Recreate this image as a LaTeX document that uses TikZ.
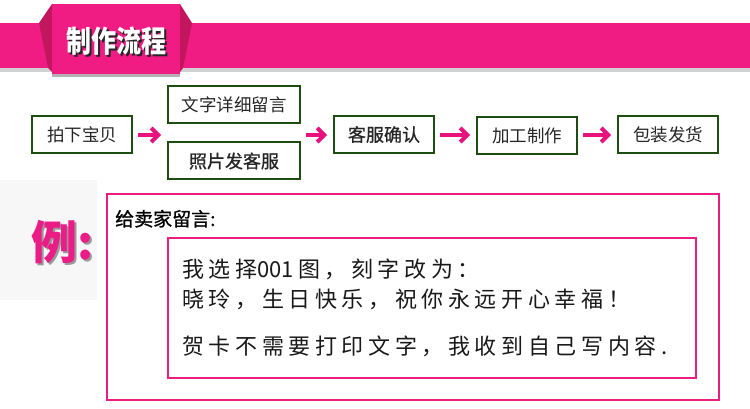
\documentclass[tikz,border=0pt]{standalone}
\usepackage{fontspec}
\usetikzlibrary{arrows.meta}
\newfontfamily\cjk{Noto Sans CJK SC}
\newfontfamily\cjkm[FakeBold=1]{Noto Sans CJK SC}
\newfontfamily\cjkw[LetterSpace=21]{Noto Sans CJK SC}
\definecolor{bandpink}{HTML}{F01B83}
\definecolor{folddark}{HTML}{C2175F}
\definecolor{boxgreen}{HTML}{1E4D12}
\definecolor{arrowpink}{HTML}{E8127F}
\definecolor{framepink}{HTML}{EC1C87}
\newcommand{\shadowtext}[3]{\rlap{\raisebox{-2pt}{\kern2pt\textcolor{#1}{#3}}}\textcolor{#2}{#3}}
\tikzset{
  flowbox/.style={draw=boxgreen, line width=2pt, minimum height=37pt, inner sep=0pt,
    font=\cjk\fontsize{17.5}{20}\selectfont, text=black!85},
  flowarrow/.style={draw=arrowpink, line width=4pt, shorten <=5pt, shorten >=6pt,
    -{Straight Barb[length=7pt,width=14pt]}},
  frame/.style={draw=framepink, inner sep=0pt},
  msg/.style={anchor=base west, inner sep=0pt, font=\cjkw\fontsize{22}{24}\selectfont, text=black!90},
}
\begin{document}
\begin{tikzpicture}[x=1pt,y=-1pt]
\useasboundingbox (0,0) rectangle (750,409);
\fill[white] (0,0) rectangle (750,409);
% banner
\fill[black!18] (0,68) rectangle (750,72);
\fill[bandpink] (0,23) rectangle (750,68);
\fill[black!30] (52,72) rectangle (180,77);
\fill[folddark] (39,23) -- (52,4) -- (52,72) -- (48,68) -- cycle;
\fill[folddark] (180,4) -- (192,23) -- (183,68) -- (180,72) -- cycle;
\fill[bandpink] (52,4) rectangle (180,74);
\node[font=\cjk\bfseries\fontsize{25}{28}\selectfont, yscale=1.2] (title) at (116,42)
  {\shadowtext{black!85}{white}{制作流程}};
% flow
\node[flowbox, minimum width=100pt] (n1) at (82,134.5) {拍下宝贝};
\node[flowbox, minimum width=132pt] (n2) at (234,104.5) {文字详细留言};
\node[flowbox, minimum width=132pt, font=\cjkm\fontsize{18}{20}\selectfont] (n3) at (234,161) {照片发客服};
\node[flowbox, minimum width=100pt, font=\cjkm\fontsize{18}{20}\selectfont] (n4) at (384,134.5) {客服确认};
\node[flowbox, minimum width=100pt] (n5) at (527,135.5) {加工制作};
\node[flowbox, minimum width=100pt] (n6) at (668,134.5) {包装发货};
\coordinate (a1) at (n1.east |- 0,135);
\coordinate (a2) at (n2.west |- 0,135);
\coordinate (b1) at (n2.east |- 0,135);
\coordinate (b2) at (n4.west |- 0,135);
\draw[flowarrow] (a1) -- (a2);
\draw[flowarrow] (b1) -- (b2);
\draw[flowarrow] (n4.east |- 0,135) -- (n5.west |- 0,135);
\draw[flowarrow] (n5.east |- 0,135) -- (n6.west |- 0,135);
% example
\fill[black!3] (0,180) rectangle (97,300);
\node[frame, line width=2.5pt, minimum width=612pt, minimum height=206pt] (outer) at (413,297) {};
\node[frame, line width=1.2pt, minimum width=528pt, minimum height=140pt] (inner) at (432,308) {};
\node[font=\cjk\bfseries\fontsize{46}{48}\selectfont] (li) at (63,243)
  {\shadowtext{black!40}{framepink}{例:}};
\node[anchor=base west, inner sep=0pt, font=\cjkm\fontsize{19}{22}\selectfont] (say) at (115,226) {给卖家留言:};
\node[msg] (m1) at (182,277) {我选择{\cjk 001}\kern4pt 图，刻字改为：};
\node[msg] (m2) at (182,307) {晓玲，生日快乐，祝你永远开心幸福！};
\node[msg] (m3) at (182,354) {贺卡不需要打印文字，我收到自己写内容.};
\end{tikzpicture}
\end{document}
